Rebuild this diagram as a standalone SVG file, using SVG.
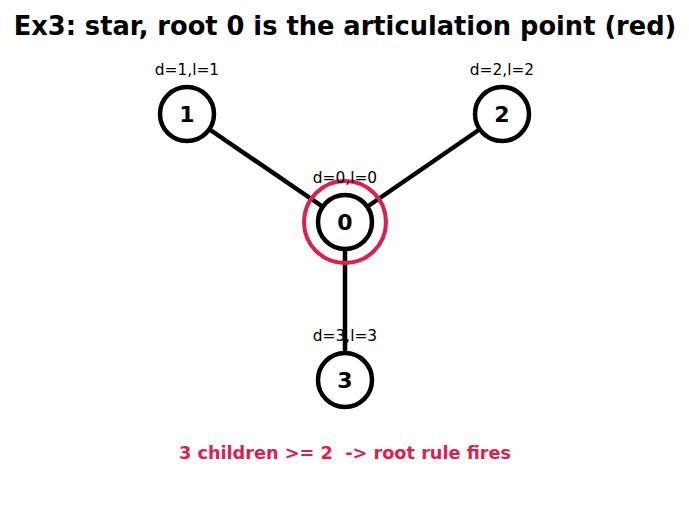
<svg xmlns="http://www.w3.org/2000/svg" width="689" height="512" viewBox="0 0 689 512">
<style>
.edge{stroke:#000;stroke-width:4.5;fill:none}
.node{fill:#fff;stroke:#000;stroke-width:4.5}
.num{font-family:"DejaVu Sans",sans-serif;font-weight:bold;font-size:22px;text-anchor:middle;fill:#000}
.lbl{font-family:"DejaVu Sans",sans-serif;font-size:15.4px;text-anchor:middle;fill:#000}
</style>
<rect width="689" height="512" fill="#fff"/>
<text x="345" y="35" font-family="DejaVu Sans, sans-serif" font-weight="bold" font-size="25.7" text-anchor="middle">Ex3: star, root 0 is the articulation point (red)</text>
<g id="connectors">
<line class="edge" x1="345" y1="222" x2="187" y2="114"/>
<line class="edge" x1="345" y1="222" x2="502" y2="114"/>
<line class="edge" x1="345" y1="222" x2="345" y2="380"/>
</g>
<g id="node1"><circle class="node" cx="187" cy="114" r="27"/><text class="num" x="187" y="122">1</text><text class="lbl" x="187" y="75">d=1,l=1</text></g>
<g id="node2"><circle class="node" cx="502" cy="114" r="27"/><text class="num" x="502" y="122">2</text><text class="lbl" x="502" y="75">d=2,l=2</text></g>
<g id="node3"><circle class="node" cx="345" cy="380" r="27"/><text class="num" x="345" y="388">3</text><text class="lbl" x="345" y="341">d=3,l=3</text></g>
<g id="node0"><circle class="node" cx="345" cy="222" r="27"/><circle cx="345" cy="222" r="41" fill="none" stroke="#dc1e50" stroke-width="4"/><text class="num" x="345" y="230">0</text><text class="lbl" x="345" y="183">d=0,l=0</text></g>
<text x="345" y="459" font-family="DejaVu Sans, sans-serif" font-weight="bold" font-size="17.7" text-anchor="middle" fill="#dc1e50" style="white-space:pre" xml:space="preserve">3 children &gt;= 2  -&gt; root rule fires</text>
</svg>
